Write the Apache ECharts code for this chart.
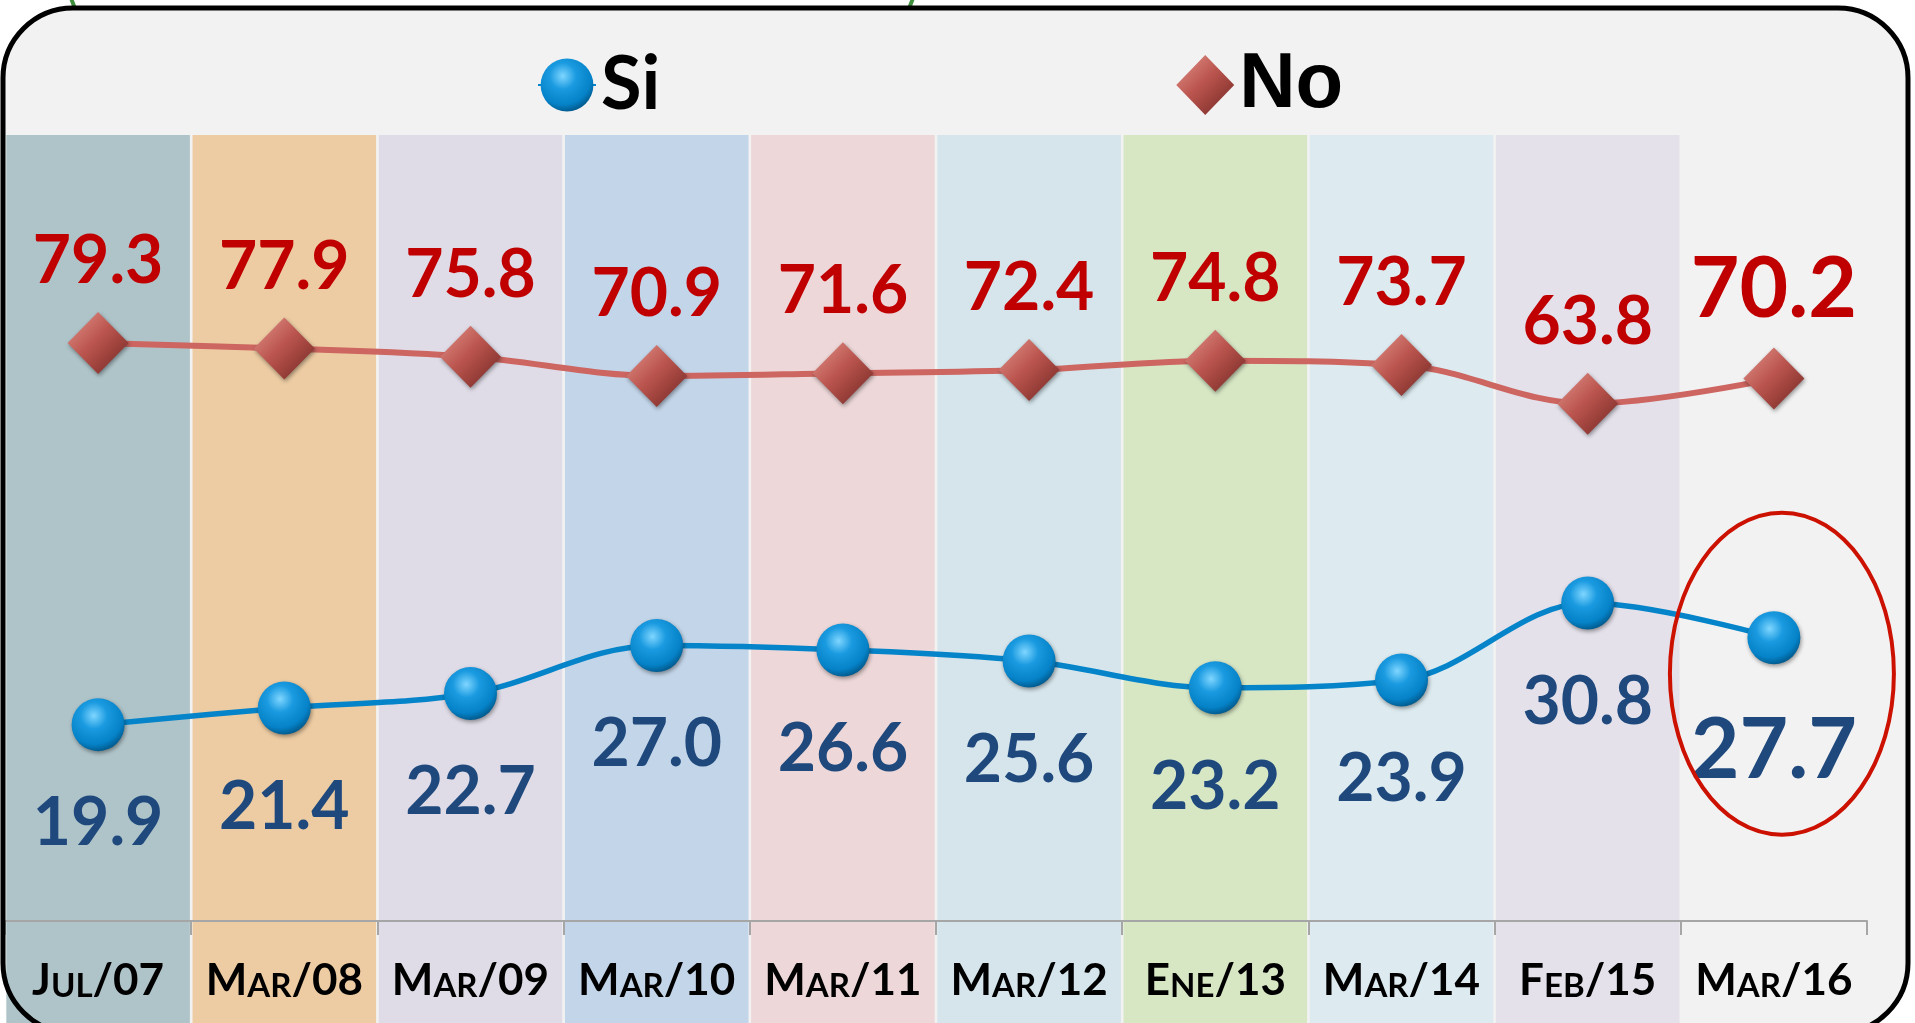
<!DOCTYPE html>
<html><head><meta charset="utf-8">
<script src="https://cdn.jsdelivr.net/npm/echarts@6/dist/echarts.min.js"></script>
<style>html,body{margin:0;padding:0;background:#fff;}#c{width:1915px;height:1023px;}</style>
</head><body><div id="c"></div>
<script>
const categories = ['Jul/07','Mar/08','Mar/09','Mar/10','Mar/11','Mar/12','Ene/13','Mar/14','Feb/15','Mar/16'];
const siValues = [19.9, 21.4, 22.7, 27.0, 26.6, 25.6, 23.2, 23.9, 30.8, 27.7];
const noValues = [79.3, 77.9, 75.8, 70.9, 71.6, 72.4, 74.8, 73.7, 63.8, 70.2];
const bandColors = ['#AFC4C9','#EDCCA3','#DFDCE7','#C3D5E9','#EDD7D8','#D5E5EB','#D7E7C4','#DDEBF0','#E4E1EB','rgba(0,0,0,0)'];

const chart = echarts.init(document.getElementById('c'), null, {renderer:'canvas'});

function smallCaps(s){
  const m = s.match(/^(.)([^\/]*)(\/.*)$/);
  return '{b|' + m[1].toUpperCase() + '}{s|' + m[2].toUpperCase() + '}{b|' + m[3] + '}';
}
const last = categories.length - 1;

const circleGrad = {type:'radial', x:0.42, y:0.33, r:0.72, colorStops:[
  {offset:0, color:'#7fd6ff'},{offset:0.35, color:'#1a9ae0'},{offset:0.75, color:'#0582c8'},{offset:1, color:'#00507e'}]};
const diamondGrad = {type:'linear', x:0, y:0, x2:1, y2:1, colorStops:[
  {offset:0, color:'#e4958d'},{offset:0.45, color:'#bb564f'},{offset:0.6, color:'#a84842'},{offset:1, color:'#6e2622'}]};

const noData = noValues.map((v,i)=> i===last ? {value:v, label:{fontSize:84, lineHeight:84, distance:16}} : {value:v});
const siData = siValues.map((v,i)=> i===last ? {value:v, label:{fontSize:84, lineHeight:84, distance:45}} : {value:v});
const bandData = categories.map((c,i)=>({value:1, itemStyle:{color:bandColors[i]}}));

const option = {
  backgroundColor:'#ffffff',
  animation:false,
  legend:{
    data:['Si', {name:'No', icon:'path://M30,0 L60,31 L30,62 L0,31 Z'}],
    left:532, top:41, itemWidth:58, itemHeight:66, itemGap:516,
    formatter: n => n === 'Si' ? '{s|Si}' : '{n|No}',
    textStyle:{rich:{
      s:{fontFamily:'Lato', fontWeight:'bold', fontSize:74, color:'#000'},
      n:{fontFamily:"'Liberation Sans Narrow', 'Liberation Sans'", fontWeight:'bold', fontSize:78, color:'#000'}
    }}
  },
  grid:[
    {left:5, right:48, top:135, bottom:102},
    {left:5, right:48, top:135, bottom:-30}
  ],
  xAxis:[
    {type:'category', gridIndex:0, data:categories, boundaryGap:true, z:10,
     axisLine:{onZero:false, lineStyle:{color:'#A6A6A6', width:2}},
     axisTick:{show:true, length:14, lineStyle:{color:'#A6A6A6', width:2}},
     axisLabel:{margin:38, formatter: smallCaps, rich:{
       b:{fontFamily:'Lato', fontWeight:'bold', fontSize:44, lineHeight:44, color:'#000', verticalAlign:'bottom'},
       s:{fontFamily:'Lato', fontWeight:'bold', fontSize:33, lineHeight:44, color:'#000', verticalAlign:'bottom'}
     }}},
    {type:'category', gridIndex:1, data:categories, show:false}
  ],
  yAxis:[
    {type:'value', gridIndex:0, min:-68.5, max:132.5, show:false},
    {type:'value', gridIndex:0, min:2.29, max:72.78, show:false},
    {type:'value', gridIndex:1, min:0, max:1, show:false}
  ],
  series:[
    {type:'bar', name:'bands', xAxisIndex:1, yAxisIndex:2, data:bandData, barCategoryGap:'1.4%', silent:true, z:1},
    {type:'line', name:'No', xAxisIndex:0, yAxisIndex:0, data:noData, smooth:0.35, z:3,
     symbol:'diamond', symbolSize:[61,62],
     lineStyle:{color:'#CD6560', width:6},
     itemStyle:{color:diamondGrad, shadowBlur:4, shadowColor:'rgba(0,0,0,0.4)', shadowOffsetX:1, shadowOffsetY:2},
     label:{show:true, position:'top', distance:17, color:'#C00000', fontFamily:'Lato', fontWeight:'bold', fontSize:66, lineHeight:66,
       formatter: p => Number(p.value).toFixed(1)}},
    {type:'line', name:'Si', xAxisIndex:0, yAxisIndex:1, data:siData, smooth:0.35, z:3,
     symbol:'circle', symbolSize:53,
     lineStyle:{color:'#0584C9', width:5.5},
     itemStyle:{color:circleGrad, shadowBlur:4, shadowColor:'rgba(0,0,0,0.4)', shadowOffsetX:1, shadowOffsetY:2},
     label:{show:true, position:'bottom', distance:40, color:'#1F497D', fontFamily:'Lato', fontWeight:'bold', fontSize:66, lineHeight:66,
       formatter: p => Number(p.value).toFixed(1)}}
  ]
};
chart.setOption(option);

const p = chart.convertToPixel({seriesIndex:2}, [last, siValues[last]]);
chart.setOption({graphic:[
  {type:'ellipse', id:'green', z:-5, silent:true, shape:{cx:492, cy:-30, rx:425, ry:200}, style:{fill:'none', stroke:'#3F8F3F', lineWidth:4}},
  {type:'rect', id:'framefill', z:-2, silent:true, shape:{x:3, y:8, width:1905, height:1025, r:70}, style:{fill:'#F2F2F2'}},
  {type:'rect', id:'frame', z:50, silent:true, shape:{x:3, y:8, width:1905, height:1025, r:70}, style:{fill:'none', stroke:'#000', lineWidth:5}},
  {type:'ellipse', id:'mark', z:50, silent:true, shape:{cx:p[0]+8, cy:p[1]+36, rx:112, ry:161}, style:{fill:'none', stroke:'#CC1100', lineWidth:4}}
]});
</script></body></html>
